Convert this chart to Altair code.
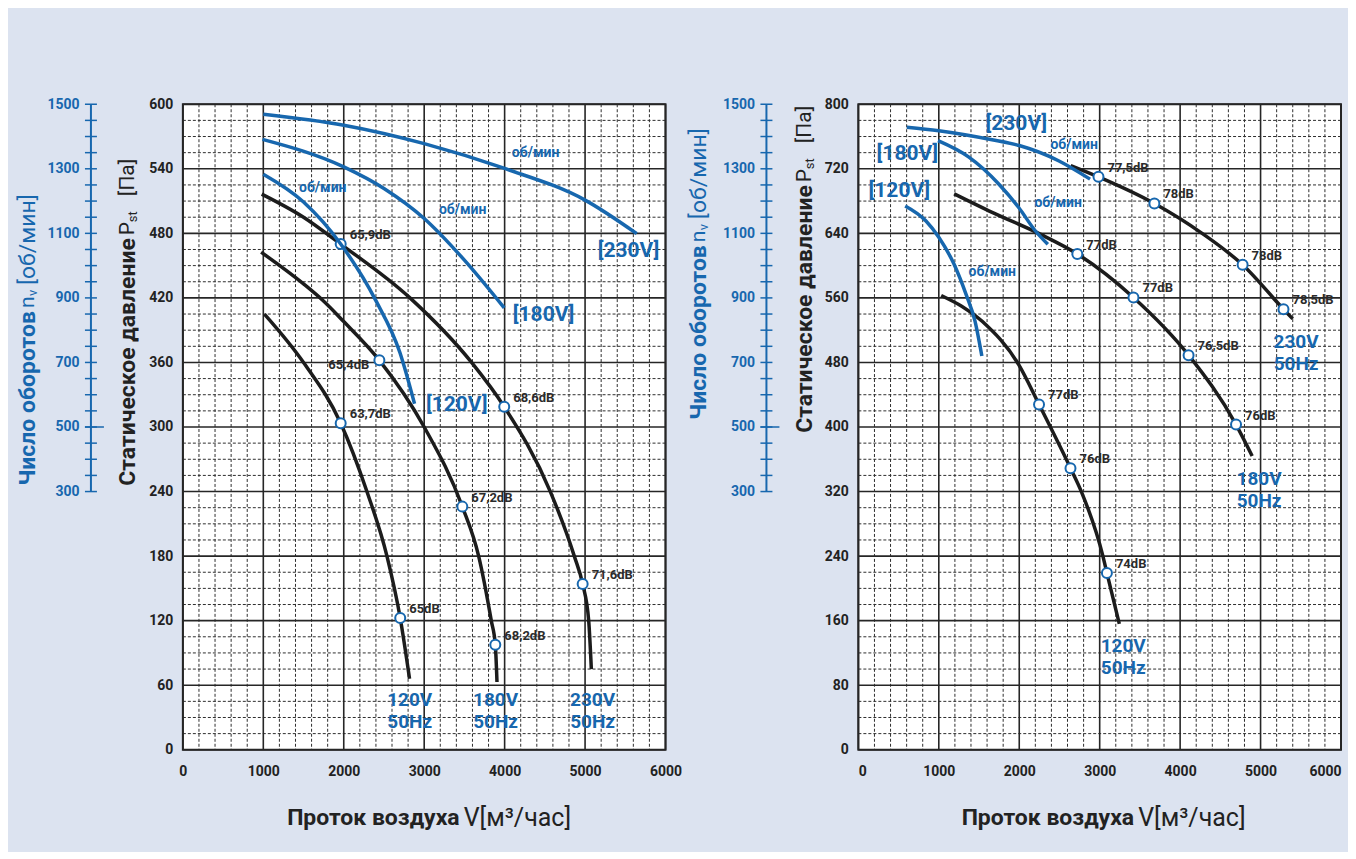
import altair as alt
import pandas as pd

# ---------------- left panel data ----------------
L_flow_230 = [980, 1500, 1962, 2823, 3589, 3995, 4568, 4866, 4970, 5045, 5078]
L_pres_230 = [516.5, 495, 470, 420, 360, 318.8, 240, 180, 154, 120, 75]
L_flow_180 = [973, 1500, 1735, 2000, 2443, 3000, 3474, 3677, 3834, 3884, 3905]
L_pres_180 = [462.5, 433, 418, 398, 362, 300, 226, 180, 120, 97.7, 63]
L_flow_120 = [1014, 1500, 1962, 2288, 2537, 2702, 2818]
L_pres_120 = [405, 360, 303.5, 240, 180, 122.5, 66]

L_rflow_230 = [1000, 2000, 3000, 4000, 5000, 5643]
L_rpm_230 = [1469, 1435, 1378, 1301, 1203, 1099]
L_rflow_180 = [990, 2000, 2500, 3000, 3500, 3995]
L_rpm_180 = [1391, 1306, 1239, 1146, 1017, 869]
L_rflow_120 = [1000, 1500, 1962, 2396, 2699, 2880]
L_rpm_120 = [1283, 1197, 1067, 893, 730, 572]

L_pt_flow = [1962, 3995, 4970, 2443, 3474, 3884, 1962, 2702]
L_pt_pres = [470, 318.8, 154, 362, 226, 97.7, 303.5, 122.5]
L_pt_text = ["65,9dB", "68,6dB", "71,6dB", "65,4dB", "67,2dB", "68,2dB", "63,7dB", "65dB"]
L_pt_side = ["r", "r", "r", "l", "r", "r", "r", "r"]

L_volt_text = ["[230V]", "[180V]", "[120V]"]
L_volt_flow = [5540, 4484, 3404]
L_volt_pres = [463.5, 404, 320.4]
L_unit_flow = [1739, 3478, 4385]
L_unit_pres = [522, 501.5, 554.5]
L_freq_text = ["120V\n50Hz", "180V\n50Hz", "230V\n50Hz"]
L_freq_flow = [2820, 3888, 5093]
L_freq_pres = [36, 36, 36]

# ---------------- right panel data ----------------
R_flow_230 = [2640, 2985, 3680, 4273, 4777, 5285, 5400]
R_pres_230 = [724, 710, 677, 640, 601, 546, 534]
R_flow_180 = [1190, 1663, 2261, 2722, 3420, 4105, 4695, 4896]
R_pres_180 = [689, 666, 639, 614.5, 560.5, 489, 403, 364]
R_flow_120 = [1030, 1539, 1995, 2246, 2637, 2772, 3040, 3090, 3244]
R_pres_120 = [563, 531, 477, 428, 349, 320, 240, 219, 156]

R_rflow_230 = [602, 1000, 1662, 2000, 2488, 2880]
R_rpm_230 = [1429, 1418, 1390, 1372, 1325, 1268]
R_rflow_180 = [990, 1374, 1745, 1993, 2199, 2355]
R_rpm_180 = [1387, 1336, 1253, 1180, 1108, 1066]
R_rflow_120 = [582, 838, 1002, 1190, 1340, 1450, 1535]
R_rpm_120 = [1185, 1139, 1087, 1004, 910, 828, 720]

R_pt_flow = [2985, 3680, 4777, 5285, 2722, 3420, 4105, 4695, 2246, 2637, 3090]
R_pt_pres = [710, 677, 601, 546, 614.5, 560.5, 489, 403, 428, 349, 219]
R_pt_text = ["77,5dB", "78dB", "78dB", "78,5dB", "77dB", "77dB", "76,5dB", "76dB", "77dB", "76dB", "74dB"]
R_pt_side = ["r"] * 11

R_volt_text = ["[230V]", "[180V]", "[120V]"]
R_volt_flow = [1963, 609, 509]
R_volt_pres = [775, 738, 692]
R_unit_flow = [2683, 2484, 1665]
R_unit_pres = [749, 677, 592.5]
R_freq_text = ["230V\n50Hz", "180V\n50Hz", "120V\n50Hz"]
R_freq_flow = [5441, 4981, 3292]
R_freq_pres = [492, 322, 115.5]

# ---------------- ticks, labels, titles ----------------
flow_ticks = list(range(0, 6001, 200))
flow_labels = list(range(0, 6001, 1000))
L_pres_ticks = list(range(0, 601, 15))
L_pres_labels = list(range(0, 601, 60))
R_pres_ticks = list(range(0, 801, 20))
R_pres_labels = list(range(0, 801, 80))
rpm_ticks = list(range(300, 1501, 50))
rpm_labels = list(range(300, 1501, 200))
rpm_marked = [500]

T_press_bold = "Статическое давление"
T_press_p = "P"
T_press_sub = "st"
T_press_unit = "[Па]"
T_rpm_bold = "Число оборотов"
T_rpm_n = "n"
T_rpm_sub = "v"
T_rpm_unit = "[об/мин]"
T_flow_bold = "Проток воздуха"
T_flow_reg = "V[м³/час]"
U_text = "об/мин"

BLUE = "#1767ae"
BLACK = "#1c1c1c"
DARK = "#222222"
BG = "#dce3f0"
FONT = "Roboto"


def curves(specs, ycol):
    rows = []
    for name, xs, ys in specs:
        for x, y in zip(xs, ys):
            rows.append({"curve": name, "V": x, ycol: y})
    return pd.DataFrame(rows)


def text_layer(text, x, y, size, weight, color, angle=0, align="center"):
    return alt.Chart(pd.DataFrame({"t": [text]})).mark_text(
        font=FONT, fontSize=size, fontWeight=weight, color=color,
        angle=angle, align=align, baseline="middle",
    ).encode(text="t:N", x=alt.value(x), y=alt.value(y))


def build_panel(black_df, blue_df, pts_df, volt_df, unit_df, freq_df,
                pres_max, pres_ticks, pres_labels, pres_major, tp, width, flush):
    xs = alt.Scale(domain=[0, 6000], nice=False, zero=False)
    ps = alt.Scale(domain=[0, pres_max], nice=False, zero=False)
    rs = alt.Scale(domain=[-500, 1500], nice=False, zero=False)

    common = dict(grid=False, ticks=False, domain=False, labelFont=FONT, labelFontSize=14,
                  labelFontWeight="bold", labelOverlap=False,
                  labelBound=False, title=None, format="d")
    x_axis = alt.Axis(values=flow_labels, labelPadding=15, labelColor=DARK,
                      labelFlush=flush, **common)
    p_axis = alt.Axis(values=pres_labels, orient="left", labelPadding=10, labelColor=DARK,
                      labelFlush=False, **common)
    r_axis = alt.Axis(values=rpm_labels, orient="left", offset=86, labelPadding=18,
                      labelColor=BLUE, labelFlush=False, **common)

    def X(f):
        return alt.X(f, scale=xs, axis=x_axis)

    def P(f):
        return alt.Y(f, scale=ps, axis=p_axis)

    def R(f):
        return alt.Y(f, scale=rs, axis=r_axis)

    xt = pd.DataFrame({"v": flow_ticks})
    yt = pd.DataFrame({"v": pres_ticks})
    gx_minor = alt.Chart(xt).transform_filter("datum.v % 1000 !== 0").mark_rule(
        color="#2e2e2e", strokeWidth=1, strokeDash=[3, 2]).encode(x=X("v:Q"))
    gy_minor = alt.Chart(yt).transform_filter(f"datum.v % {pres_major} !== 0").mark_rule(
        color="#2e2e2e", strokeWidth=1, strokeDash=[3, 2]).encode(y=P("v:Q"))
    gx_major = alt.Chart(xt).transform_filter("datum.v % 1000 === 0").mark_rule(
        color="#262626", strokeWidth=1.6).encode(x=X("v:Q"))
    gy_major = alt.Chart(yt).transform_filter(f"datum.v % {pres_major} === 0").mark_rule(
        color="#262626", strokeWidth=1.6).encode(y=P("v:Q"))

    black = alt.Chart(black_df).mark_line(
        interpolate="monotone", color=BLACK, strokeWidth=3.5, strokeCap="butt"
    ).encode(x=X("V:Q"), y=P("P:Q"), detail="curve:N")

    points = alt.Chart(pts_df).mark_circle(
        fill="white", stroke=BLUE, strokeWidth=2, size=100, opacity=1
    ).encode(x=X("V:Q"), y=P("P:Q"))

    lab_r = alt.Chart(pts_df).transform_filter(alt.datum.side == "r").mark_text(
        align="left", baseline="middle", dx=9, dy=-9, font=FONT, fontSize=13,
        fontWeight="bold", color="#2b2b2b"
    ).encode(x=X("V:Q"), y=P("P:Q"), text="label:N")
    lab_l = alt.Chart(pts_df).transform_filter(alt.datum.side == "l").mark_text(
        align="right", baseline="middle", dx=-10, dy=5, font=FONT, fontSize=13,
        fontWeight="bold", color="#2b2b2b"
    ).encode(x=X("V:Q"), y=P("P:Q"), text="label:N")

    volt = alt.Chart(volt_df).mark_text(
        font=FONT, fontSize=21, fontWeight="bold", color=BLUE, baseline="middle"
    ).encode(x=X("V:Q"), y=P("P:Q"), text="label:N")
    unit = alt.Chart(unit_df).mark_text(
        font=FONT, fontSize=14, fontWeight="bold", color=BLUE, baseline="middle"
    ).encode(x=X("V:Q"), y=P("P:Q"), text="label:N")
    freq = alt.Chart(freq_df).mark_text(
        font=FONT, fontSize=19, fontWeight="bold", color=BLUE, baseline="middle",
        lineBreak="\n", lineHeight=22, dy=-11
    ).encode(x=X("V:Q"), y=P("P:Q"), text="label:N")

    S, Rr = tp["py"], tp["ry"]
    titles = [
        text_layer(T_press_bold, tp["px"], S, 23, "bold", DARK, 270, "right"),
        text_layer(T_press_p, tp["px"], S - 3, 21, "normal", DARK, 270, "left"),
        text_layer(T_press_sub, tp["px"] + 5, S - 16, 13, "normal", DARK, 270, "left"),
        text_layer(T_press_unit, tp["px"], S - 42, 21, "normal", DARK, 270, "left"),
        text_layer(T_rpm_bold, tp["rx"], Rr, 23, "bold", BLUE, 270, "right"),
        text_layer(T_rpm_n, tp["rx"], Rr - 3, 21, "normal", BLUE, 270, "left"),
        text_layer(T_rpm_sub, tp["rx"] + 5, Rr - 15, 13, "normal", BLUE, 270, "left"),
        text_layer(T_rpm_unit, tp["rx"], Rr - 26, 23, "normal", BLUE, 270, "left"),
        text_layer(T_flow_bold, tp["fx"], tp["fy"], 23, "bold", DARK, 0, "right"),
        text_layer(T_flow_reg, tp["fx"] + 4, tp["fy"], 25, "normal", DARK, 0, "left"),
    ]

    pres_group = alt.layer(gx_minor, gy_minor, gx_major, gy_major, black, points,
                           lab_r, lab_l, volt, unit, freq, *titles)

    blue = alt.Chart(blue_df).mark_line(
        interpolate="monotone", color=BLUE, strokeWidth=3.5, strokeCap="butt"
    ).encode(x=X("V:Q"), y=R("R:Q"), detail="curve:N")

    rpm_tick_marks = alt.Chart(pd.DataFrame({"v": rpm_ticks})).mark_rule(
        color=BLUE, strokeWidth=1.5
    ).encode(y=R("v:Q"), x=alt.value(-98), x2=alt.value(-86))
    axis_line = alt.Chart(pd.DataFrame({"lo": [min(rpm_ticks)], "hi": [max(rpm_ticks)]})).mark_rule(
        color=BLUE, strokeWidth=2
    ).encode(x=alt.value(-92), y=R("lo:Q"), y2="hi:Q")
    long_tick = alt.Chart(pd.DataFrame({"v": rpm_marked})).mark_rule(
        color=BLUE, strokeWidth=1.5
    ).encode(y=R("v:Q"), x=alt.value(-98), x2=alt.value(-79))

    rpm_group = alt.layer(blue, rpm_tick_marks, axis_line, long_tick)

    return alt.layer(pres_group, rpm_group).resolve_scale(y="independent").properties(
        width=width, height=646
    )


def pts_frame(v, p, t, s):
    return pd.DataFrame({"V": v, "P": p, "label": t, "side": s})


def lab_frame(v, p, t):
    return pd.DataFrame({"V": v, "P": p, "label": t})


left = build_panel(
    curves([("230", L_flow_230, L_pres_230), ("180", L_flow_180, L_pres_180),
            ("120", L_flow_120, L_pres_120)], "P"),
    curves([("230", L_rflow_230, L_rpm_230), ("180", L_rflow_180, L_rpm_180),
            ("120", L_rflow_120, L_rpm_120)], "R"),
    pts_frame(L_pt_flow, L_pt_pres, L_pt_text, L_pt_side),
    lab_frame(L_volt_flow, L_volt_pres, L_volt_text),
    lab_frame(L_unit_flow, L_unit_pres, [U_text] * 3),
    lab_frame(L_freq_flow, L_freq_pres, L_freq_text),
    600, L_pres_ticks, L_pres_labels, 60,
    {"px": -55, "py": 134, "rx": -155, "ry": 207, "fx": 277, "fy": 714},
    483, False,
)

right = build_panel(
    curves([("230", R_flow_230, R_pres_230), ("180", R_flow_180, R_pres_180),
            ("120", R_flow_120, R_pres_120)], "P"),
    curves([("230", R_rflow_230, R_rpm_230), ("180", R_rflow_180, R_rpm_180),
            ("120", R_rflow_120, R_rpm_120)], "R"),
    pts_frame(R_pt_flow, R_pt_pres, R_pt_text, R_pt_side),
    lab_frame(R_volt_flow, R_volt_pres, R_volt_text),
    lab_frame(R_unit_flow, R_unit_pres, [U_text] * 3),
    lab_frame(R_freq_flow, R_freq_pres, R_freq_text),
    800, R_pres_ticks, R_pres_labels, 80,
    {"px": -53, "py": 81, "rx": -159, "ry": 141, "fx": 276, "fy": 714},
    483, True,
)

chart = alt.hconcat(left, right, spacing=193, bounds="flush").properties(
    background=BG,
    padding={"left": 8, "top": 88, "right": 5, "bottom": 20},
).configure_view(stroke="#222222", strokeWidth=2, fill="white")

chart.save("out.html", embed_options={"renderer": "svg", "actions": False})
